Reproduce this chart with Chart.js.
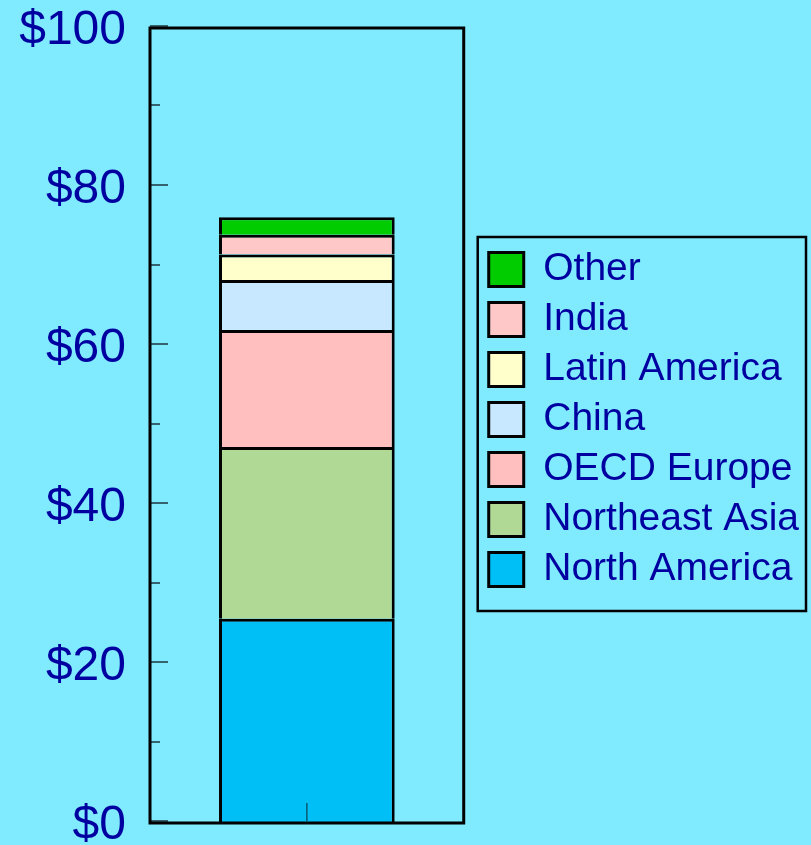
<!DOCTYPE html>
<html>
<head>
<meta charset="utf-8">
<script src="https://cdn.jsdelivr.net/npm/chart.js@4/dist/chart.umd.min.js"></script>
<style>
    html, body { margin: 0; padding: 0; background: #80EAFF; }
    #wrap { width: 811px; height: 845px; position: relative; }
</style>
</head>
<body>
<div id="wrap"><canvas id="chart"></canvas></div>
<script>
const categories = [""];
const regions = ["North America", "Northeast Asia", "OECD Europe", "China", "Latin America", "India", "Other"];
const regionValues = [
    [25.7],
    [21.6],
    [14.7],
    [6.3],
    [3.2],
    [2.5],
    [2.2]
];
const regionColors = ["#00BFF6", "#AFD995", "#FFBFBF", "#C8E8FF", "#FFFFCC", "#FFC8C8", "#00CC00"];
const yTicks = [0, 20, 40, 60, 80, 100];

const textColor = "#0000A0";
const fontFamily = "'Liberation Sans', Arial, sans-serif";

// frame around the plot, short inward ticks, and the box round the legend
const framePlugin = {
    id: "frame",
    afterLayout(chart) {
        // leave a gap between the plot and the legend
        const legend = chart.legend;
        legend.left += 14;
        legend.right += 14;
        legend.top -= 3;
        legend.bottom -= 3;
    },
    afterDraw(chart) {
        const { ctx, chartArea: a, scales } = chart;
        const y = scales.y, x = scales.x;
        ctx.save();

        ctx.strokeStyle = "#1c3640";
        ctx.lineWidth = 1.5;
        for (let v = 0; v <= 100; v += 10) {
            const py = Math.round(y.getPixelForValue(v)) - 2;
            const len = v % 20 === 0 ? 18 : 10;
            ctx.beginPath();
            ctx.moveTo(a.left, py);
            ctx.lineTo(a.left + len, py);
            ctx.stroke();
        }

        ctx.strokeStyle = "#0a5a70";
        ctx.lineWidth = 1.5;
        const px = x.getPixelForValue(0);
        ctx.beginPath();
        ctx.moveTo(px, a.bottom - 2);
        ctx.lineTo(px, a.bottom - 20);
        ctx.stroke();

        ctx.strokeStyle = "#000";
        ctx.lineWidth = 3;
        ctx.strokeRect(a.left, a.top, a.right - a.left, a.bottom - a.top);

        const boxes = chart.legend.legendHitBoxes;
        if (boxes && boxes.length) {
            const first = boxes[0], last = boxes[boxes.length - 1];
            const left = first.left - 11;
            const top = first.top - 13;
            const right = 806;
            const bottom = last.top + last.height + 22;
            ctx.lineWidth = 2.5;
            ctx.strokeRect(left, top, right - left, bottom - top);
        }
        ctx.restore();
    }
};

new Chart(document.getElementById("chart"), {
    type: "bar",
    data: {
        labels: categories,
        datasets: regions.map((name, i) => ({
            label: name,
            data: regionValues[i],
            backgroundColor: regionColors[i],
            borderColor: "#000",
            borderWidth: 3,
            categoryPercentage: 1,
            barPercentage: 0.56
        }))
    },
    options: {
        responsive: true,
        maintainAspectRatio: false,
        animation: false,
        layout: {
            padding: { top: 0, bottom: 0, left: 0, right: 16 }
        },
        plugins: {
            legend: {
                position: "right",
                reverse: true,
                maxWidth: 360,
                labels: {
                    boxWidth: 35,
                    boxHeight: 34,
                    padding: 11,
                    color: textColor,
                    font: { family: fontFamily, size: 39 }
                }
            },
            tooltip: { enabled: false }
        },
        scales: {
            x: {
                stacked: true,
                grid: { display: false },
                border: { display: false },
                ticks: { display: false },
                afterFit: (axis) => {
                    axis.height = 0;
                    axis.paddingLeft = 0;
                    axis.paddingRight = 0;
                }
            },
            y: {
                stacked: true,
                min: 0,
                max: 100,
                afterBuildTicks: (axis) => {
                    axis.ticks = yTicks.map(v => ({ value: v }));
                },
                afterFit: (axis) => {
                    axis.width = 150;
                    axis.paddingTop = 28;
                    axis.paddingBottom = 22;
                    axis.paddingLeft = 0;
                    axis.paddingRight = 0;
                },
                grid: { display: false, drawTicks: false },
                border: { display: false },
                ticks: {
                    padding: 24,
                    labelOffset: 3,
                    color: textColor,
                    font: { family: fontFamily, size: 48 },
                    callback: (v) => "$" + v
                }
            }
        }
    },
    plugins: [framePlugin]
});
</script>
</body>
</html>
